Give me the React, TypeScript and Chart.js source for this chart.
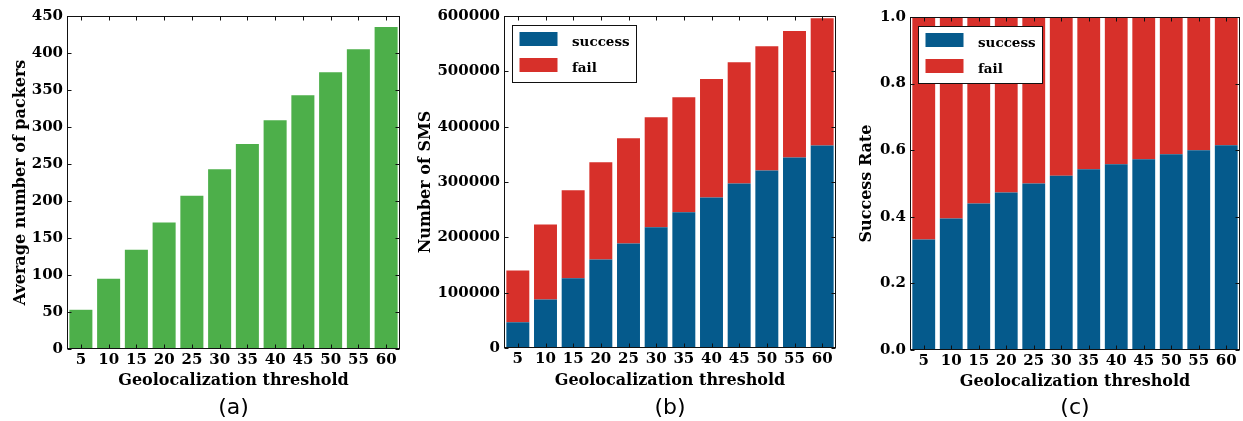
import React, { useEffect, useRef } from 'react';
import { Chart, registerables } from 'chart.js';

Chart.register(...registerables);

// ---------- data ----------
const categories = ['5', '10', '15', '20', '25', '30', '35', '40', '45', '50', '55', '60'];
const avgPackers = [53, 95, 134, 171, 207, 243, 277, 309, 343, 374, 405, 435];
const smsSuccess = [46500, 87500, 126000, 160000, 189000, 218000, 245500, 272000, 297500, 321000, 344500, 366000];
const smsFail = [93500, 135500, 159000, 175500, 190000, 199000, 207500, 214000, 219000, 224500, 228500, 230000];
const rateSuccess = [0.332, 0.395, 0.44, 0.473, 0.5, 0.523, 0.543, 0.558, 0.573, 0.588, 0.6, 0.615];
const rateFail = [0.668, 0.605, 0.56, 0.527, 0.5, 0.477, 0.457, 0.442, 0.427, 0.412, 0.4, 0.385];
const xTitle = 'Geolocalization threshold';

const SERIF = '"DejaVu Serif", serif';
const SANS = '"DejaVu Sans", sans-serif';
const GREEN = '#4daf4a';
const BLUE = '#055a8c';
const RED = '#d7302a';
const H = 421;

type PanelCfg = {
  left: number;
  width: number;
  area: { l: number; r: number; t: number; b: number };
  yTitle: string;
  yTitlePad: number;
  xTitlePad: number;
  yMax: number;
  yStep: number;
  decimals: number;
  datasets: any[];
  legend: boolean;
  caption: string;
};

const framePlugin = {
  id: 'frameTicks',
  afterDatasetsDraw(chart: any) {
    const { ctx, chartArea: ca, scales } = chart;
    const L = ca.left + 0.5, R = ca.right - 0.5, T = ca.top + 0.5, B = ca.bottom - 0.5;
    ctx.save();
    ctx.strokeStyle = '#111';
    ctx.lineWidth = 1;
    ctx.strokeRect(L, T, R - L, B - T);
    const tl = 4;
    ctx.beginPath();
    scales.y.ticks.forEach((_: any, i: number) => {
      const y = Math.round(scales.y.getPixelForTick(i)) + 0.5;
      ctx.moveTo(L, y); ctx.lineTo(L + tl, y);
      ctx.moveTo(R, y); ctx.lineTo(R - tl, y);
    });
    scales.x.ticks.forEach((_: any, i: number) => {
      const x = Math.round(scales.x.getPixelForTick(i)) + 0.5;
      ctx.moveTo(x, B); ctx.lineTo(x, B - tl);
      ctx.moveTo(x, T); ctx.lineTo(x, T + tl);
    });
    ctx.stroke();
    ctx.restore();
  },
  afterDraw(chart: any, _args: any, opts: any) {
    const { ctx, chartArea: ca } = chart;
    ctx.save();
    if (opts.legend) {
      const bx = Math.round(ca.left + 8) + 0.5;
      const by = Math.round(ca.top + 9) + 0.5;
      const bw = 124, bh = 57;
      ctx.fillStyle = '#fff';
      ctx.fillRect(bx, by, bw, bh);
      ctx.strokeStyle = '#111';
      ctx.lineWidth = 1;
      ctx.strokeRect(bx, by, bw, bh);
      ctx.font = `bold 13.5px ${SERIF}`;
      ctx.textBaseline = 'alphabetic';
      ctx.textAlign = 'left';
      chart.data.datasets.forEach((ds: any, i: number) => {
        const sy = by + 6.5 + i * 26;
        ctx.fillStyle = ds.backgroundColor;
        ctx.fillRect(bx + 7, sy, 38, 14);
        ctx.fillStyle = '#000';
        ctx.fillText(ds.label, bx + 59.5, sy + 14);
      });
    }
    ctx.font = `22px ${SANS}`;
    ctx.fillStyle = '#000';
    ctx.textAlign = 'center';
    ctx.textBaseline = 'alphabetic';
    ctx.fillText(opts.caption, (ca.left + ca.right) / 2, 414);
    ctx.restore();
  },
};

function Panel({ cfg }: { cfg: PanelCfg }) {
  const ref = useRef<HTMLCanvasElement>(null);
  useEffect(() => {
    if (!ref.current) return;
    const { area, width } = cfg;
    const tickFont = { family: SERIF, size: 15, weight: 'bold' as const };
    const titleFont = { family: SERIF, size: 16, weight: 'bold' as const };
    const chart = new Chart(ref.current, {
      type: 'bar',
      data: { labels: categories, datasets: cfg.datasets },
      options: {
        responsive: false,
        animation: false,
        devicePixelRatio: 1,
        layout: { padding: { left: 0, right: width - area.r, top: area.t, bottom: 0 } },
        datasets: { bar: { barPercentage: 0.83, categoryPercentage: 1 } },
        plugins: {
          legend: { display: false },
          tooltip: { enabled: false },
          frameTicks: { legend: cfg.legend, caption: cfg.caption },
        } as any,
        scales: {
          x: {
            stacked: true,
            grid: { display: false, drawTicks: false },
            border: { display: false },
            ticks: { font: tickFont, color: '#000', padding: 2, maxRotation: 0, autoSkip: false },
            title: {
              display: true,
              text: xTitle,
              font: titleFont,
              color: '#000',
              padding: { top: 0, bottom: cfg.xTitlePad },
            },
            afterFit: (s: any) => { s.height = H - area.b; },
          },
          y: {
            stacked: true,
            min: 0,
            max: cfg.yMax,
            grid: { display: false, drawTicks: false },
            border: { display: false },
            ticks: {
              stepSize: cfg.yStep,
              font: tickFont,
              color: '#000',
              padding: 4,
              callback: (v: any) => Number(v).toFixed(cfg.decimals),
            },
            title: {
              display: true,
              text: cfg.yTitle,
              font: titleFont,
              color: '#000',
              padding: { top: cfg.yTitlePad, bottom: 0 },
            },
            afterFit: (s: any) => { s.width = area.l; },
          },
        },
      },
      plugins: [framePlugin],
    });
    return () => chart.destroy();
  }, [cfg]);
  return (
    <canvas
      ref={ref}
      width={cfg.width}
      height={H}
      style={{ position: 'absolute', left: cfg.left, top: 0, width: cfg.width, height: H }}
    />
  );
}

const panels: PanelCfg[] = [
  {
    left: 0,
    width: 410,
    area: { l: 67, r: 400, t: 16, b: 349 },
    yTitle: 'Average number of packers',
    yTitlePad: 10.9,
    xTitlePad: 30.4,
    yMax: 450,
    yStep: 50,
    decimals: 0,
    datasets: [{ label: 'packers', data: avgPackers, backgroundColor: GREEN }],
    legend: false,
    caption: '(a)',
  },
  {
    left: 410,
    width: 430,
    area: { l: 94, r: 426, t: 16, b: 348 },
    yTitle: 'Number of SMS',
    yTitlePad: 5.9,
    xTitlePad: 30.4,
    yMax: 600000,
    yStep: 100000,
    decimals: 0,
    datasets: [
      { label: 'success', data: smsSuccess, backgroundColor: BLUE },
      { label: 'fail', data: smsFail, backgroundColor: RED },
    ],
    legend: true,
    caption: '(b)',
  },
  {
    left: 840,
    width: 403,
    area: { l: 70, r: 400, t: 17, b: 350 },
    yTitle: 'Success Rate',
    yTitlePad: 17.4,
    xTitlePad: 29.4,
    yMax: 1,
    yStep: 0.2,
    decimals: 1,
    datasets: [
      { label: 'success', data: rateSuccess, backgroundColor: BLUE },
      { label: 'fail', data: rateFail, backgroundColor: RED },
    ],
    legend: true,
    caption: '(c)',
  },
];

export default function App() {
  return (
    <div style={{ position: 'absolute', left: 0, top: 0, width: 1243, height: H, background: '#fff' }}>
      {panels.map((p) => (
        <Panel key={p.caption} cfg={p} />
      ))}
    </div>
  );
}
